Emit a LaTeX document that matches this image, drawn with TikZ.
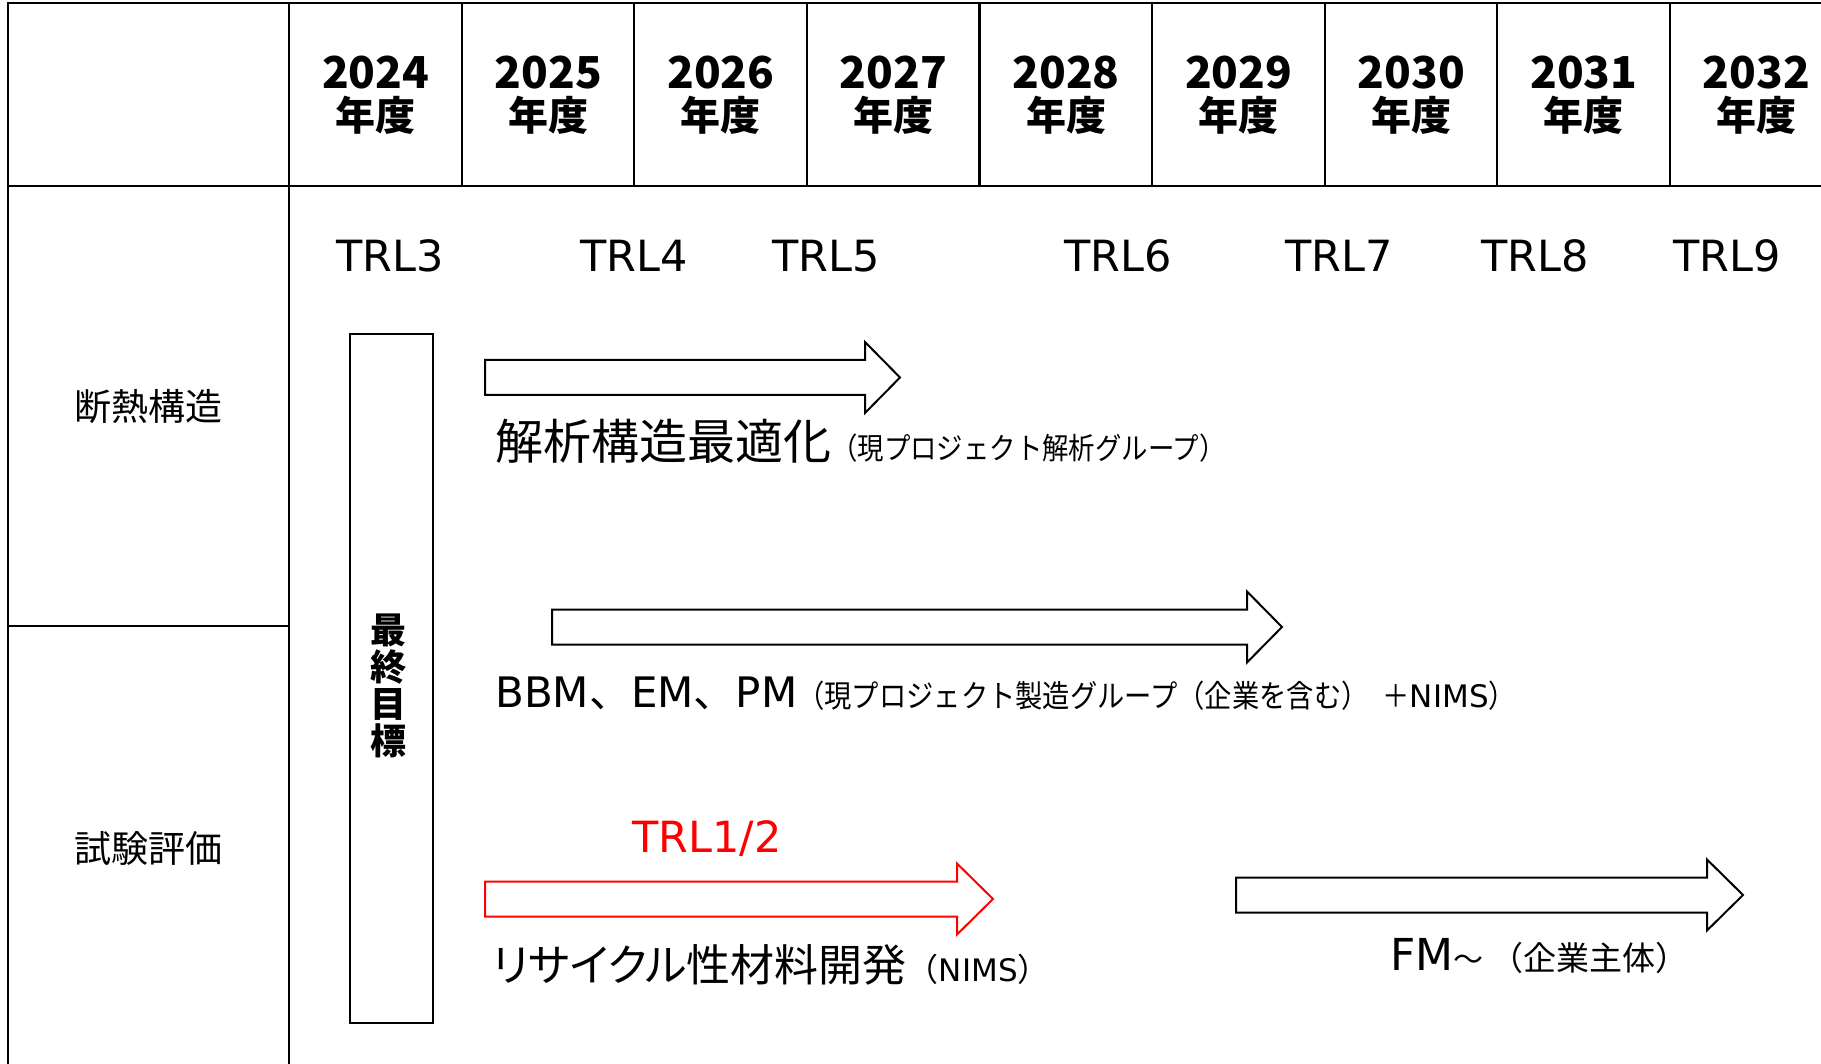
\documentclass[tikz,border=0pt]{standalone}
\usepackage{fontspec}
\setmainfont{DejaVu Sans}
\newfontfamily\jp{Noto Sans CJK JP}
\newfontfamily\jpc{Noto Sans CJK JP}[FakeStretch=0.88]
\newfontfamily\jpl{Noto Sans CJK JP}[RawFeature={+palt}]
\newcommand{\blockarr}[5][]{%
  \draw[barrow,#1] (#2,#5-17.5) -- (#3,#5-17.5) -- (#3,#5-35.5) -- (#4,#5)
    -- (#3,#5+35.5) -- (#3,#5+17.5) -- (#2,#5+17.5) -- cycle;}
\newcommand{\smallnims}{{\rmfamily\fontsize{31}{31}\selectfont NIMS}}
\tikzset{
  tbl/.style={line width=2.2pt, line cap=rect},
  yr/.style={font=\jp\bfseries\fontsize{44}{44}\selectfont, anchor=base, inner sep=0pt},
  nendo/.style={font=\jp\bfseries\fontsize{40}{40}\selectfont, anchor=base, inner sep=0pt},
  trl/.style={font=\fontsize{43}{43}\selectfont, anchor=base, inner sep=0pt},
  rowlab/.style={font=\jp\fontsize{37}{37}\selectfont, inner sep=0pt},
  txtline/.style={anchor=base west, inner sep=0pt},
  barrow/.style={line width=2pt, fill=white, line join=miter},
  goalbox/.style={draw, line width=2pt, minimum width=83pt, minimum height=689pt, inner sep=0pt},
  goaltxt/.style={font=\jp\bfseries\fontsize{36}{37}\selectfont, align=center, inner sep=0pt},
}
\begin{document}
\begin{tikzpicture}[x=1pt,y=-1pt]
\useasboundingbox (0,0) rectangle (1821,1064);
% table
\draw[tbl] (8,1064) -- (8,3) -- (1821,3);
\draw[tbl] (8,186) -- (1821,186);
\draw[tbl] (289,3) -- (289,1064);
\draw[tbl] (8,626) -- (289,626);
\foreach \k in {1,...,8} \draw[tbl] ({289+\k*172.6},3) -- ({289+\k*172.6},186);
% header
\foreach \y [count=\i from 0] in {2024,...,2032} {
  \pgfmathsetmacro\cx{375.6+\i*172.6}
  \node[yr] (y\y) at (\cx,89) {\y};
  \node[nendo] (n\y) at (\cx,131) {年度};
}
% row labels
\node[rowlab] (r1) at (148,407) {断熱構造};
\node[rowlab] (r2) at (148,848) {試験評価};
% TRL labels
\node[trl] (t3) at (390,272) {TRL3};
\node[trl] (t4) at (634,272) {TRL4};
\node[trl] (t5) at (826,272) {TRL5};
\node[trl] (t6) at (1118,272) {TRL6};
\node[trl] (t7) at (1339,272) {TRL7};
\node[trl] (t8) at (1535,272) {TRL8};
\node[trl] (t9) at (1727,272) {TRL9};
% goal box
\node[goalbox] (goal) at (391.5,678.5) {};
\node[goaltxt] (goaltext) at (388,686) {最\\終\\目\\標};
% arrows
\blockarr{485}{865}{900}{377.5}
\blockarr{552}{1247}{1282}{627}
\blockarr[draw=red]{485}{957}{993}{899}
\blockarr{1236}{1707}{1743}{895}
% texts
\node[txtline] (l1) at (495,459) {{\jpl\fontsize{48}{48}\selectfont 解析構造最適化}{\jpc\fontsize{30}{30}\selectfont （現プロジェクト解析グループ）}};
\node[txtline] (l2) at (495,707) {{\fontsize{42}{42}\selectfont BBM{\jp 、}EM{\jp 、}PM}{\jpc\fontsize{31}{31}\selectfont （現プロジェクト製造グループ（企業を含む）\hspace{14pt}＋\smallnims）}};
\node[trl, text=red] (t12) at (707,852) {TRL1/2};
\node[txtline] (l3) at (492,981) {{\jpl\fontsize{44}{44}\selectfont リサイクル性材料開発}{\jp\fontsize{32}{32}\selectfont （\smallnims）}};
\node[txtline] (l4) at (1390,970) {{\fontsize{44}{44}\selectfont FM}{\jp\fontsize{30}{30}\selectfont ～ }{\jp\fontsize{33}{33}\selectfont （企業主体）}};
\end{tikzpicture}
\end{document}
